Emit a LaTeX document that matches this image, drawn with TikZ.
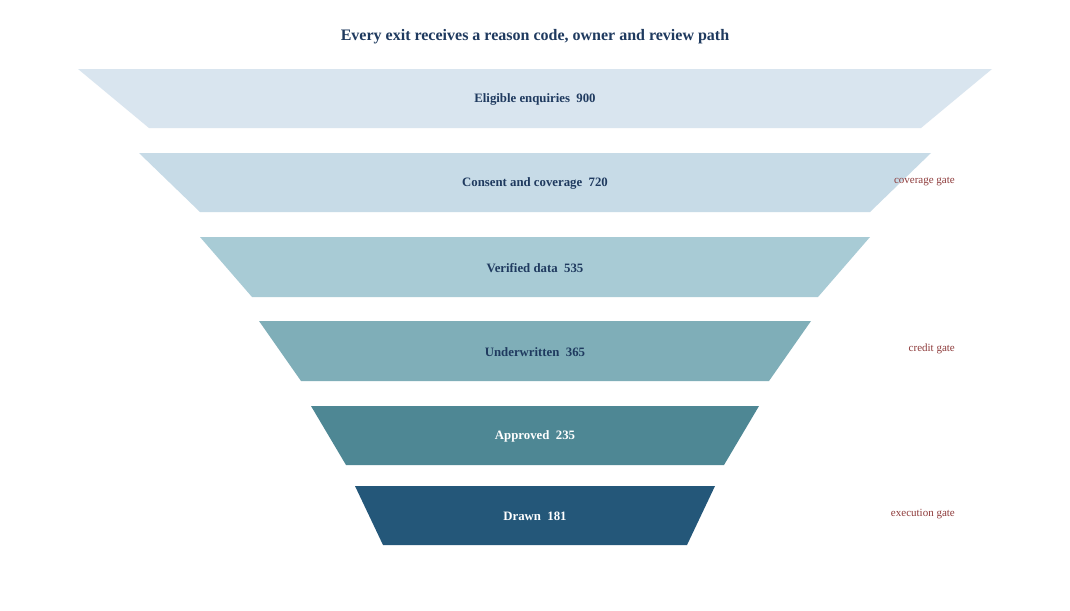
\documentclass[tikz,border=0pt]{standalone}
\usepackage{fontspec}
\setmainfont{Liberation Serif}
\definecolor{cA}{HTML}{D9E5EF}
\definecolor{cB}{HTML}{C7DBE7}
\definecolor{cC}{HTML}{A8CBD5}
\definecolor{cD}{HTML}{7FAEB8}
\definecolor{cE}{HTML}{4E8794}
\definecolor{cF}{HTML}{245779}
\definecolor{navy}{HTML}{1F3A5F}
\definecolor{gatered}{HTML}{8E3B3B}
\begin{document}
\begin{tikzpicture}[x=1pt,y=-1pt,
  stagelbl/.style={font=\bfseries\fontsize{12.8}{14}\selectfont, text=navy, inner sep=0pt},
  stagelblw/.style={stagelbl, text=white},
  gatelbl/.style={font=\fontsize{11}{13}\selectfont, text=gatered, anchor=east, inner sep=0pt},
  titlelbl/.style={font=\bfseries\fontsize{16}{19}\selectfont, text=navy, inner sep=0pt}]
\useasboundingbox (0,0) rectangle (1070,610);
\fill[white] (0,0) rectangle (1070,610);
\newcommand{\stage}[6]{\fill[#6] (#2,#1) -- (1070-#2,#1) -- (1070-#4,#3) -- (#4,#3) -- cycle;}
\stage{69}{78}{128}{149}{}{cA}
\stage{153}{139}{212}{200}{}{cB}
\stage{237}{200}{297}{252}{}{cC}
\stage{321}{259}{381}{301}{}{cD}
\stage{406}{311}{465}{346}{}{cE}
\stage{486}{355}{545}{383}{}{cF}
\node[titlelbl] (title) at (535,37) {Every exit receives a reason code, owner and review path};
\node[stagelbl] (s1) at (535,99) {Eligible enquiries\ \ 900};
\node[stagelbl] (s2) at (535,183) {Consent and coverage\ \ 720};
\node[stagelbl] (s3) at (535,268) {Verified data\ \ 535};
\node[stagelbl] (s4) at (535,352) {Underwritten\ \ 365};
\node[stagelblw] (s5) at (535,436) {Approved\ \ 235};
\node[stagelblw] (s6) at (535,516) {Drawn\ \ 181};
\node[gatelbl] (g1) at (955,182) {coverage gate};
\node[gatelbl] (g2) at (955,349) {credit gate};
\node[gatelbl] (g3) at (955,514) {execution gate};
\end{tikzpicture}
\end{document}
